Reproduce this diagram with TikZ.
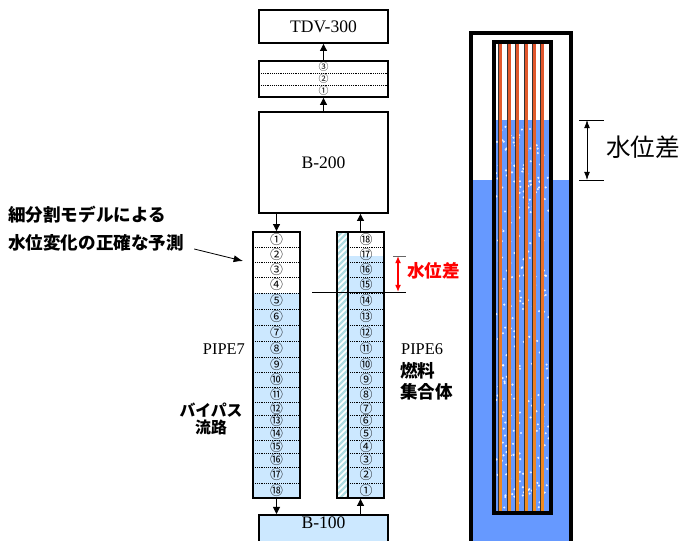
\documentclass[tikz,border=0pt]{standalone}
\usepackage{fontspec}
\setmainfont{Liberation Serif}
\newfontfamily\jp{Noto Sans CJK JP}
\usetikzlibrary{arrows.meta}
\definecolor{water}{RGB}{204,232,255}
\definecolor{pool}{RGB}{102,153,255}
\definecolor{hatch}{RGB}{175,220,225}
\definecolor{rodtop}{RGB}{225,85,45}
\definecolor{rodbot}{RGB}{240,140,30}
\tikzset{
  box/.style={draw=black,line width=1.6pt,inner sep=0pt},
  cell/.style={densely dotted,line width=0.6pt},
  arr/.style={-{Triangle[length=6pt,width=6pt]},line width=0.8pt},
  num/.style={font=\jp\fontsize{11pt}{11pt}\selectfont,inner sep=0pt},
  jnum/.style={font=\jp\fontsize{8.5pt}{8.5pt}\selectfont,inner sep=0pt},
  lbl/.style={font=\fontsize{15pt}{15pt}\selectfont},
  jpb/.style={font=\jp\bfseries\fontsize{15pt}{18pt}\selectfont},
}
\begin{document}
\begin{tikzpicture}[x=0.03cm,y=-0.03cm]
  \useasboundingbox (0,0) rectangle (683,540);
  \def\u{0.03cm}
  % water in the pipes, hatched gap of the assembly
  \fill[water] (253,293) rectangle (300,498);
  \fill[water] (348,256) rectangle (384,498);
  \begin{scope}
    \clip (337,232) rectangle (348,498);
    \foreach \k in {0,...,52}
      \draw[hatch,line width=2pt] (330,{232+6*\k}) -- (356,{232+6*\k-26});
  \end{scope}
  \draw[line width=0.9pt] (348,232) -- (348,498);
  % cells, PIPE7 counts down, PIPE6 counts up
  \foreach \t/\b/\l/\r [count=\i] in {232/247/①/⑱, 247/262/②/⑰, 262/277/③/⑯,
      277/293/④/⑮, 293/309/⑤/⑭, 309/325/⑥/⑬, 325/341/⑦/⑫, 341/357/⑧/⑪,
      357/372/⑨/⑩, 372/387/⑩/⑨, 387/402/⑪/⑧, 402/415/⑫/⑦, 415/427/⑬/⑥,
      427/440/⑭/⑤, 440/453/⑮/④, 453/467/⑯/③, 467/483/⑰/②, 483/498/⑱/①}{
    \node[num] (c7-\i) at (276.5,{(\t+\b)/2}) {\l};
    \node[num] (c6-\i) at (366,{(\t+\b)/2}) {\r};
    \ifnum\i<18
      \draw[cell] (253,\b) -- (300,\b);
      \draw[cell] (348,\b) -- (384,\b);
    \fi
  }
  \node[box,minimum width=47*\u,minimum height=266*\u] (p7) at (276.5,365) {};
  \node[box,minimum width=47*\u,minimum height=266*\u] (p6) at (360.5,365) {};

  % volumes and the junction
  \node[box,lbl,minimum width=129*\u,minimum height=33*\u] (tdv) at (323.5,26.5) {TDV-300};
  \draw[cell] (259,73) -- (388,73);
  \draw[cell] (259,85) -- (388,85);
  \node[jnum] (j3) at (323.5,67) {③};
  \node[jnum] (j2) at (323.5,79) {②};
  \node[jnum] (j1) at (323.5,91) {①};
  \node[box,minimum width=129*\u,minimum height=36*\u] (jun) at (323.5,79) {};
  \node[box,lbl,minimum width=129*\u,minimum height=101*\u] (b200) at (323.5,162.5) {B-200};
  \node[box,fill=water,minimum width=129*\u,minimum height=50*\u,anchor=north] (b100) at (323.5,514) {};
  \node[lbl,anchor=north,inner sep=2pt] (b100t) at (b100.north) {B-100};

  \draw[arr] (jun.north) -- (tdv.south);
  \draw[arr] (b200.north) -- (jun.south);
  \draw[arr] (b200.south -| p7.north) -- (p7.north);
  \draw[arr] (p6.north) -- (p6.north |- b200.south);
  \draw[arr] (p7.south) -- (p7.south |- b100.north);
  \draw[arr] (p6.south |- b100.north) -- (p6.south);

  % labels
  \node[anchor=east,font=\fontsize{14pt}{14pt}\selectfont] (p7l) at (249,349) {PIPE7};
  \node[anchor=west,font=\fontsize{14pt}{14pt}\selectfont] (p6l) at (397,349) {PIPE6};
  \node[jpb,anchor=north west,align=left,inner sep=0pt] (fuel) at (400,362) {燃料\\集合体};
  \node[font=\jp\bfseries\fontsize{13.5pt}{14.5pt}\selectfont,align=center,inner sep=0pt] (byp) at (211,419) {バイパス\\流路};
  \node[jpb,anchor=west,inner sep=0pt] (note1) at (8,215) {細分割モデルによる};
  \node[jpb,anchor=west,inner sep=0pt] (note2) at (8,243) {水位変化の正確な予測};
  \coordinate (tip) at (243,261);
  \draw[-{Latex[length=8pt,width=6pt]},line width=0.7pt] ([xshift=10*\u,yshift=-6*\u]note2.east) -- (tip);

  % level difference between the pipes
  \coordinate (lvhi) at (398,256);
  \coordinate (lvlo) at (398,292);
  \draw[black!60,line width=0.7pt] (393,256) -- (406,256);
  \draw[line width=0.7pt] (312,292) -- (406,292);
  \draw[red,line width=1.2pt,{Latex[length=6pt,width=5pt]}-{Latex[length=6pt,width=5pt]}] (lvhi) -- (lvlo);
  \node[jpb,red,anchor=west,inner sep=0pt] (dlv) at (407,271) {水位差};

  % vessel with the fuel assembly
  \fill[pool] (471,180) rectangle (571,560);
  \fill[white] (494,42) rectangle (551,120);
  \fill[pool] (494,120) rectangle (551,513);
  \pgfmathsetseed{7}
  \foreach \k in {1,...,300}{
    \pgfmathsetmacro{\bx}{496+53*rnd}
    \pgfmathsetmacro{\by}{123+385*rnd}
    \fill[white,opacity=.85] (\bx,\by) circle (1pt);
  }
  \foreach \x in {500.5,509,517.3,526,534,542.3}{
    \shade[top color=rodtop,bottom color=rodbot] (\x-1.2,42) rectangle (\x+1.4,513);
    \draw[black!80,line width=0.7pt] (\x-1.6,42) -- (\x-1.6,513);
  }
  \draw[line width=2.6pt] (494,42) rectangle (551,513);
  \draw[line width=2.6pt] (471,560) -- (471,33) -- (571,33) -- (571,560);

  \coordinate (dhi) at (587,120);
  \coordinate (dlo) at (587,180);
  \draw[line width=0.6pt] (579,120) -- (604,120);
  \draw[line width=0.6pt] (579,180) -- (604,180);
  \draw[line width=0.6pt,{Latex[length=7pt,width=5pt]}-{Latex[length=7pt,width=5pt]}] (dhi) -- (dlo);
  \node[anchor=west,inner sep=0pt,font=\jp\fontsize{21pt}{21pt}\selectfont] (dlv2) at (606,147) {水位差};
\end{tikzpicture}
\end{document}
